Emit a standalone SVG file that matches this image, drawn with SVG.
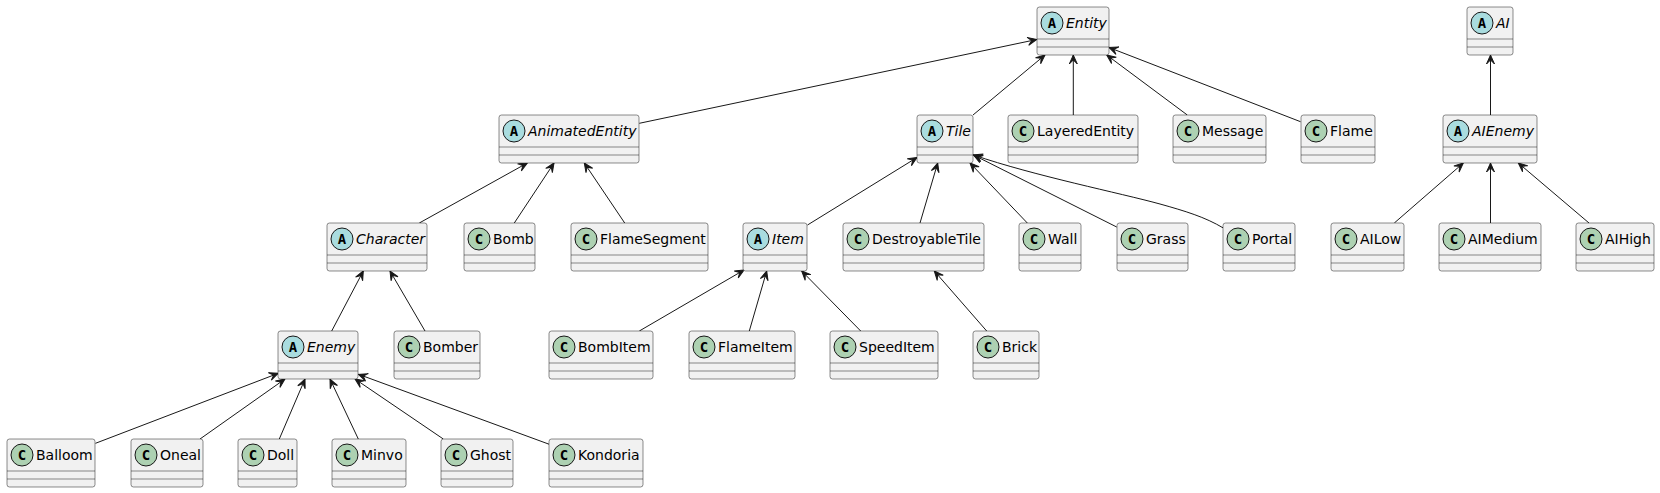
<svg xmlns="http://www.w3.org/2000/svg" width="1660" height="493" viewBox="0 0 1660 493">
<defs>
<style>
.box{fill:#F1F1F1;stroke:#181818;stroke-width:0.5}
.sep{stroke:#181818;stroke-width:0.5}
.ca{fill:#A9DCDF;stroke:#181818;stroke-width:1}
.cc{fill:#ADD1B2;stroke:#181818;stroke-width:1}
.sym{font-family:"DejaVu Sans Mono","Liberation Mono",monospace;font-weight:bold;font-size:14px;fill:#000;text-anchor:middle}
.name{font-family:"DejaVu Sans","Liberation Sans",sans-serif;font-size:14px;fill:#000}
.abs{font-style:italic}
.edge{fill:none;stroke:#181818;stroke-width:1;marker-end:url(#arr)}
</style>
<marker id="arr" markerUnits="userSpaceOnUse" orient="auto" refX="0" refY="0" markerWidth="12" markerHeight="10" overflow="visible">
<path d="M0,0 L-9,-4 L-5,0 L-9,4 Z" fill="#181818" stroke="#181818" stroke-width="1" stroke-linejoin="miter"/>
</marker>
</defs>
<rect width="1660" height="493" fill="#FFFFFF"/>

<g id="connectors">
<path class="edge" d="M639.3,123.3 L1036.7,39.5"/>
<path class="edge" d="M973,115 L1045,55"/>
<path class="edge" d="M1073.3,115 L1073.3,55"/>
<path class="edge" d="M1187.3,115 L1106.7,55"/>
<path class="edge" d="M1300.5,121.7 L1109,47.5"/>
<path class="edge" d="M1490.5,115 L1490.5,55"/>
<path class="edge" d="M419.3,223 L527.3,163"/>
<path class="edge" d="M514.3,223 L554,163"/>
<path class="edge" d="M624.7,223 L584.3,163"/>
<path class="edge" d="M807.5,225 L917,157.5"/>
<path class="edge" d="M920,223 L937.7,163"/>
<path class="edge" d="M1027.3,223 L970,163"/>
<path class="edge" d="M1116.7,227 L973.5,155"/>
<path class="edge" d="M1223.3,228 C1205,217 1185,211 1160,204 C1120,193 1035,176 973.5,155"/>
<path class="edge" d="M1394.3,223 L1463.3,163"/>
<path class="edge" d="M1490.5,223 L1490.5,163"/>
<path class="edge" d="M1589,223 L1518.3,163"/>
<path class="edge" d="M331.7,331 L363.3,271"/>
<path class="edge" d="M425,331 L390,271"/>
<path class="edge" d="M639.3,331 L744,270"/>
<path class="edge" d="M749.3,331 L766.7,271"/>
<path class="edge" d="M860.7,331 L801.7,271"/>
<path class="edge" d="M986.7,331 L934.3,271"/>
<path class="edge" d="M95.5,443.3 L278.3,373.3"/>
<path class="edge" d="M200,439 L285,379"/>
<path class="edge" d="M279.3,439 L305,379"/>
<path class="edge" d="M358.3,439 L330,379"/>
<path class="edge" d="M443.3,439 L355,379"/>
<path class="edge" d="M549.3,444.3 L358.5,374.3"/>
</g>

<g id="Entity"><rect class="box" x="1037" y="7" width="72" height="48" rx="2.5"/><circle class="ca" cx="1052" cy="23" r="11"/><text class="sym" x="1052" y="28">A</text><text class="name abs" x="1066" y="27.8">Entity</text><line class="sep" x1="1037" y1="39" x2="1109" y2="39"/><line class="sep" x1="1037" y1="47" x2="1109" y2="47"/></g>
<g id="AI"><rect class="box" x="1467" y="7" width="46" height="48" rx="2.5"/><circle class="ca" cx="1482" cy="23" r="11"/><text class="sym" x="1482" y="28">A</text><text class="name abs" x="1496" y="27.8">AI</text><line class="sep" x1="1467" y1="39" x2="1513" y2="39"/><line class="sep" x1="1467" y1="47" x2="1513" y2="47"/></g>

<g id="AnimatedEntity"><rect class="box" x="499" y="115" width="140" height="48" rx="2.5"/><circle class="ca" cx="514" cy="131" r="11"/><text class="sym" x="514" y="136">A</text><text class="name abs" x="528" y="135.8">AnimatedEntity</text><line class="sep" x1="499" y1="147" x2="639" y2="147"/><line class="sep" x1="499" y1="155" x2="639" y2="155"/></g>
<g id="Tile"><rect class="box" x="917" y="115" width="56" height="48" rx="2.5"/><circle class="ca" cx="932" cy="131" r="11"/><text class="sym" x="932" y="136">A</text><text class="name abs" x="946" y="135.8">Tile</text><line class="sep" x1="917" y1="147" x2="973" y2="147"/><line class="sep" x1="917" y1="155" x2="973" y2="155"/></g>
<g id="LayeredEntity"><rect class="box" x="1008" y="115" width="130" height="48" rx="2.5"/><circle class="cc" cx="1023" cy="131" r="11"/><text class="sym" x="1023" y="136">C</text><text class="name" x="1037" y="135.8">LayeredEntity</text><line class="sep" x1="1008" y1="147" x2="1138" y2="147"/><line class="sep" x1="1008" y1="155" x2="1138" y2="155"/></g>
<g id="Message"><rect class="box" x="1173" y="115" width="93" height="48" rx="2.5"/><circle class="cc" cx="1188" cy="131" r="11"/><text class="sym" x="1188" y="136">C</text><text class="name" x="1202" y="135.8">Message</text><line class="sep" x1="1173" y1="147" x2="1266" y2="147"/><line class="sep" x1="1173" y1="155" x2="1266" y2="155"/></g>
<g id="Flame"><rect class="box" x="1301" y="115" width="74" height="48" rx="2.5"/><circle class="cc" cx="1316" cy="131" r="11"/><text class="sym" x="1316" y="136">C</text><text class="name" x="1330" y="135.8">Flame</text><line class="sep" x1="1301" y1="147" x2="1375" y2="147"/><line class="sep" x1="1301" y1="155" x2="1375" y2="155"/></g>
<g id="AIEnemy"><rect class="box" x="1443" y="115" width="94" height="48" rx="2.5"/><circle class="ca" cx="1458" cy="131" r="11"/><text class="sym" x="1458" y="136">A</text><text class="name abs" x="1472" y="135.8">AIEnemy</text><line class="sep" x1="1443" y1="147" x2="1537" y2="147"/><line class="sep" x1="1443" y1="155" x2="1537" y2="155"/></g>

<g id="Character"><rect class="box" x="327" y="223" width="100" height="48" rx="2.5"/><circle class="ca" cx="342" cy="239" r="11"/><text class="sym" x="342" y="244">A</text><text class="name abs" x="356" y="243.8">Character</text><line class="sep" x1="327" y1="255" x2="427" y2="255"/><line class="sep" x1="327" y1="263" x2="427" y2="263"/></g>
<g id="Bomb"><rect class="box" x="464" y="223" width="71" height="48" rx="2.5"/><circle class="cc" cx="479" cy="239" r="11"/><text class="sym" x="479" y="244">C</text><text class="name" x="493" y="243.8">Bomb</text><line class="sep" x1="464" y1="255" x2="535" y2="255"/><line class="sep" x1="464" y1="263" x2="535" y2="263"/></g>
<g id="FlameSegment"><rect class="box" x="571" y="223" width="137" height="48" rx="2.5"/><circle class="cc" cx="586" cy="239" r="11"/><text class="sym" x="586" y="244">C</text><text class="name" x="600" y="243.8">FlameSegment</text><line class="sep" x1="571" y1="255" x2="708" y2="255"/><line class="sep" x1="571" y1="263" x2="708" y2="263"/></g>
<g id="Item"><rect class="box" x="743" y="223" width="64" height="48" rx="2.5"/><circle class="ca" cx="758" cy="239" r="11"/><text class="sym" x="758" y="244">A</text><text class="name abs" x="772" y="243.8">Item</text><line class="sep" x1="743" y1="255" x2="807" y2="255"/><line class="sep" x1="743" y1="263" x2="807" y2="263"/></g>
<g id="DestroyableTile"><rect class="box" x="843" y="223" width="141" height="48" rx="2.5"/><circle class="cc" cx="858" cy="239" r="11"/><text class="sym" x="858" y="244">C</text><text class="name" x="872" y="243.8">DestroyableTile</text><line class="sep" x1="843" y1="255" x2="984" y2="255"/><line class="sep" x1="843" y1="263" x2="984" y2="263"/></g>
<g id="Wall"><rect class="box" x="1019" y="223" width="62" height="48" rx="2.5"/><circle class="cc" cx="1034" cy="239" r="11"/><text class="sym" x="1034" y="244">C</text><text class="name" x="1048" y="243.8">Wall</text><line class="sep" x1="1019" y1="255" x2="1081" y2="255"/><line class="sep" x1="1019" y1="263" x2="1081" y2="263"/></g>
<g id="Grass"><rect class="box" x="1117" y="223" width="71" height="48" rx="2.5"/><circle class="cc" cx="1132" cy="239" r="11"/><text class="sym" x="1132" y="244">C</text><text class="name" x="1146" y="243.8">Grass</text><line class="sep" x1="1117" y1="255" x2="1188" y2="255"/><line class="sep" x1="1117" y1="263" x2="1188" y2="263"/></g>
<g id="Portal"><rect class="box" x="1223" y="223" width="72" height="48" rx="2.5"/><circle class="cc" cx="1238" cy="239" r="11"/><text class="sym" x="1238" y="244">C</text><text class="name" x="1252" y="243.8">Portal</text><line class="sep" x1="1223" y1="255" x2="1295" y2="255"/><line class="sep" x1="1223" y1="263" x2="1295" y2="263"/></g>
<g id="AILow"><rect class="box" x="1331" y="223" width="73" height="48" rx="2.5"/><circle class="cc" cx="1346" cy="239" r="11"/><text class="sym" x="1346" y="244">C</text><text class="name" x="1360" y="243.8">AILow</text><line class="sep" x1="1331" y1="255" x2="1404" y2="255"/><line class="sep" x1="1331" y1="263" x2="1404" y2="263"/></g>
<g id="AIMedium"><rect class="box" x="1439" y="223" width="102" height="48" rx="2.5"/><circle class="cc" cx="1454" cy="239" r="11"/><text class="sym" x="1454" y="244">C</text><text class="name" x="1468" y="243.8">AIMedium</text><line class="sep" x1="1439" y1="255" x2="1541" y2="255"/><line class="sep" x1="1439" y1="263" x2="1541" y2="263"/></g>
<g id="AIHigh"><rect class="box" x="1576" y="223" width="78" height="48" rx="2.5"/><circle class="cc" cx="1591" cy="239" r="11"/><text class="sym" x="1591" y="244">C</text><text class="name" x="1605" y="243.8">AIHigh</text><line class="sep" x1="1576" y1="255" x2="1654" y2="255"/><line class="sep" x1="1576" y1="263" x2="1654" y2="263"/></g>

<g id="Enemy"><rect class="box" x="278" y="331" width="80" height="48" rx="2.5"/><circle class="ca" cx="293" cy="347" r="11"/><text class="sym" x="293" y="352">A</text><text class="name abs" x="307" y="351.8">Enemy</text><line class="sep" x1="278" y1="363" x2="358" y2="363"/><line class="sep" x1="278" y1="371" x2="358" y2="371"/></g>
<g id="Bomber"><rect class="box" x="394" y="331" width="86" height="48" rx="2.5"/><circle class="cc" cx="409" cy="347" r="11"/><text class="sym" x="409" y="352">C</text><text class="name" x="423" y="351.8">Bomber</text><line class="sep" x1="394" y1="363" x2="480" y2="363"/><line class="sep" x1="394" y1="371" x2="480" y2="371"/></g>
<g id="BombItem"><rect class="box" x="549" y="331" width="104" height="48" rx="2.5"/><circle class="cc" cx="564" cy="347" r="11"/><text class="sym" x="564" y="352">C</text><text class="name" x="578" y="351.8">BombItem</text><line class="sep" x1="549" y1="363" x2="653" y2="363"/><line class="sep" x1="549" y1="371" x2="653" y2="371"/></g>
<g id="FlameItem"><rect class="box" x="689" y="331" width="106" height="48" rx="2.5"/><circle class="cc" cx="704" cy="347" r="11"/><text class="sym" x="704" y="352">C</text><text class="name" x="718" y="351.8">FlameItem</text><line class="sep" x1="689" y1="363" x2="795" y2="363"/><line class="sep" x1="689" y1="371" x2="795" y2="371"/></g>
<g id="SpeedItem"><rect class="box" x="830" y="331" width="108" height="48" rx="2.5"/><circle class="cc" cx="845" cy="347" r="11"/><text class="sym" x="845" y="352">C</text><text class="name" x="859" y="351.8">SpeedItem</text><line class="sep" x1="830" y1="363" x2="938" y2="363"/><line class="sep" x1="830" y1="371" x2="938" y2="371"/></g>
<g id="Brick"><rect class="box" x="973" y="331" width="66" height="48" rx="2.5"/><circle class="cc" cx="988" cy="347" r="11"/><text class="sym" x="988" y="352">C</text><text class="name" x="1002" y="351.8">Brick</text><line class="sep" x1="973" y1="363" x2="1039" y2="363"/><line class="sep" x1="973" y1="371" x2="1039" y2="371"/></g>

<g id="Balloom"><rect class="box" x="7" y="439" width="88" height="48" rx="2.5"/><circle class="cc" cx="22" cy="455" r="11"/><text class="sym" x="22" y="460">C</text><text class="name" x="36" y="459.8">Balloom</text><line class="sep" x1="7" y1="471" x2="95" y2="471"/><line class="sep" x1="7" y1="479" x2="95" y2="479"/></g>
<g id="Oneal"><rect class="box" x="131" y="439" width="72" height="48" rx="2.5"/><circle class="cc" cx="146" cy="455" r="11"/><text class="sym" x="146" y="460">C</text><text class="name" x="160" y="459.8">Oneal</text><line class="sep" x1="131" y1="471" x2="203" y2="471"/><line class="sep" x1="131" y1="479" x2="203" y2="479"/></g>
<g id="Doll"><rect class="box" x="238" y="439" width="59" height="48" rx="2.5"/><circle class="cc" cx="253" cy="455" r="11"/><text class="sym" x="253" y="460">C</text><text class="name" x="267" y="459.8">Doll</text><line class="sep" x1="238" y1="471" x2="297" y2="471"/><line class="sep" x1="238" y1="479" x2="297" y2="479"/></g>
<g id="Minvo"><rect class="box" x="332" y="439" width="74" height="48" rx="2.5"/><circle class="cc" cx="347" cy="455" r="11"/><text class="sym" x="347" y="460">C</text><text class="name" x="361" y="459.8">Minvo</text><line class="sep" x1="332" y1="471" x2="406" y2="471"/><line class="sep" x1="332" y1="479" x2="406" y2="479"/></g>
<g id="Ghost"><rect class="box" x="441" y="439" width="72" height="48" rx="2.5"/><circle class="cc" cx="456" cy="455" r="11"/><text class="sym" x="456" y="460">C</text><text class="name" x="470" y="459.8">Ghost</text><line class="sep" x1="441" y1="471" x2="513" y2="471"/><line class="sep" x1="441" y1="479" x2="513" y2="479"/></g>
<g id="Kondoria"><rect class="box" x="549" y="439" width="94" height="48" rx="2.5"/><circle class="cc" cx="564" cy="455" r="11"/><text class="sym" x="564" y="460">C</text><text class="name" x="578" y="459.8">Kondoria</text><line class="sep" x1="549" y1="471" x2="643" y2="471"/><line class="sep" x1="549" y1="479" x2="643" y2="479"/></g>
</svg>
